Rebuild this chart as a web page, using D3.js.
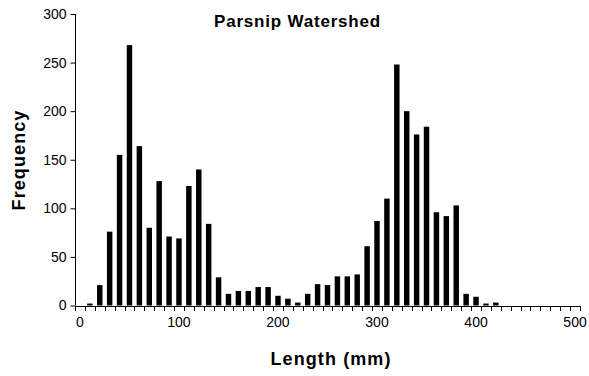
<!DOCTYPE html>
<html>
<head>
<meta charset="utf-8">
<script src="https://cdn.jsdelivr.net/npm/d3@7"></script>
<style>
  html, body { margin: 0; padding: 0; background: #fff; }
  svg { display: block; }
  text { font-family: "Liberation Sans", Arial, sans-serif; fill: #000; }
</style>
</head>
<body>
<svg id="chart" width="589" height="376"></svg>
<script>
// Length bins (mm)
const categories = d3.range(0, 501, 10);
// Frequency per bin
const frequencies = [
  0, 2, 21, 76, 155, 268, 164, 80, 128, 71,
  69, 123, 140, 84, 29, 12, 15, 15, 19, 19,
  10, 7, 3, 12, 22, 21, 30, 30, 32, 61,
  87, 110, 248, 200, 176, 184, 96, 92, 103, 12,
  9, 2, 3, 0, 0, 0, 0, 0, 0, 0,
  0
];
const yTicks = [0, 50, 100, 150, 200, 250, 300];
const xLabels = [0, 100, 200, 300, 400, 500];
const chartTitle = "Parsnip Watershed";
const xTitle = "Length (mm)";
const yTitle = "Frequency";

const data = categories.map((c, i) => ({ c, v: frequencies[i] }));

const svg = d3.select("#chart");
const mLeft = 75, mRight = 580, mTop = 14, mBottom = 305.5;

const xCat = d3.scaleBand().domain(categories).range([mLeft, mRight]).padding(0);
const x = d3.scaleBand().domain(categories).range([mLeft, mRight])
  .paddingInner(0.45).paddingOuter(0.225);
const y = d3.scaleLinear().domain([0, 300]).range([mBottom, mTop]);

// Bars
svg.append("g").selectAll("rect").data(data).enter().append("rect")
  .attr("x", d => x(d.c))
  .attr("width", x.bandwidth())
  .attr("y", d => y(d.v))
  .attr("height", d => y(0) - y(d.v))
  .attr("fill", "#000");

// Y axis
const yAxis = svg.append("g").attr("transform", `translate(${mLeft + 0.5},0)`)
  .call(d3.axisLeft(y).tickValues(yTicks).tickSize(5).tickPadding(4).tickSizeOuter(0));
yAxis.select(".domain").attr("stroke", "#000").attr("d", `M0,${mTop}V${mBottom}`);
yAxis.selectAll(".tick line").attr("stroke", "#000");
yAxis.selectAll("text").style("font-size", "14px").attr("fill", "#000");

// X axis line + boundary ticks
const gx = svg.append("g").attr("shape-rendering", "crispEdges");
gx.append("line").attr("x1", mLeft).attr("x2", mRight)
  .attr("y1", y(0) + 0.5).attr("y2", y(0) + 0.5).attr("stroke", "#000");
const boundaries = categories.map(c => xCat(c)).concat([mRight]);
gx.selectAll("line.tk").data(boundaries).enter().append("line")
  .attr("class", "tk")
  .attr("x1", d => Math.round(d) + 0.5).attr("x2", d => Math.round(d) + 0.5)
  .attr("y1", y(0)).attr("y2", y(0) + 5.5)
  .attr("stroke", "#000");
gx.selectAll("text").data(xLabels).enter().append("text")
  .attr("x", d => xCat(d) + xCat.bandwidth() / 2)
  .attr("y", 327)
  .attr("text-anchor", "middle")
  .style("font-size", "14px")
  .text(d => d);

// Titles
svg.append("text").attr("x", 297.5).attr("y", 26.5).attr("text-anchor", "middle")
  .style("font-size", "17px").style("font-weight", "bold").style("letter-spacing", "0.8px")
  .text(chartTitle);
svg.append("text").attr("x", 331).attr("y", 365).attr("text-anchor", "middle")
  .style("font-size", "18px").style("font-weight", "bold").style("letter-spacing", "1.1px")
  .text(xTitle);
svg.append("text").attr("transform", "translate(25,160) rotate(-90)").attr("text-anchor", "middle")
  .style("font-size", "18px").style("font-weight", "bold").style("letter-spacing", "1.1px")
  .text(yTitle);
</script>
</body>
</html>
